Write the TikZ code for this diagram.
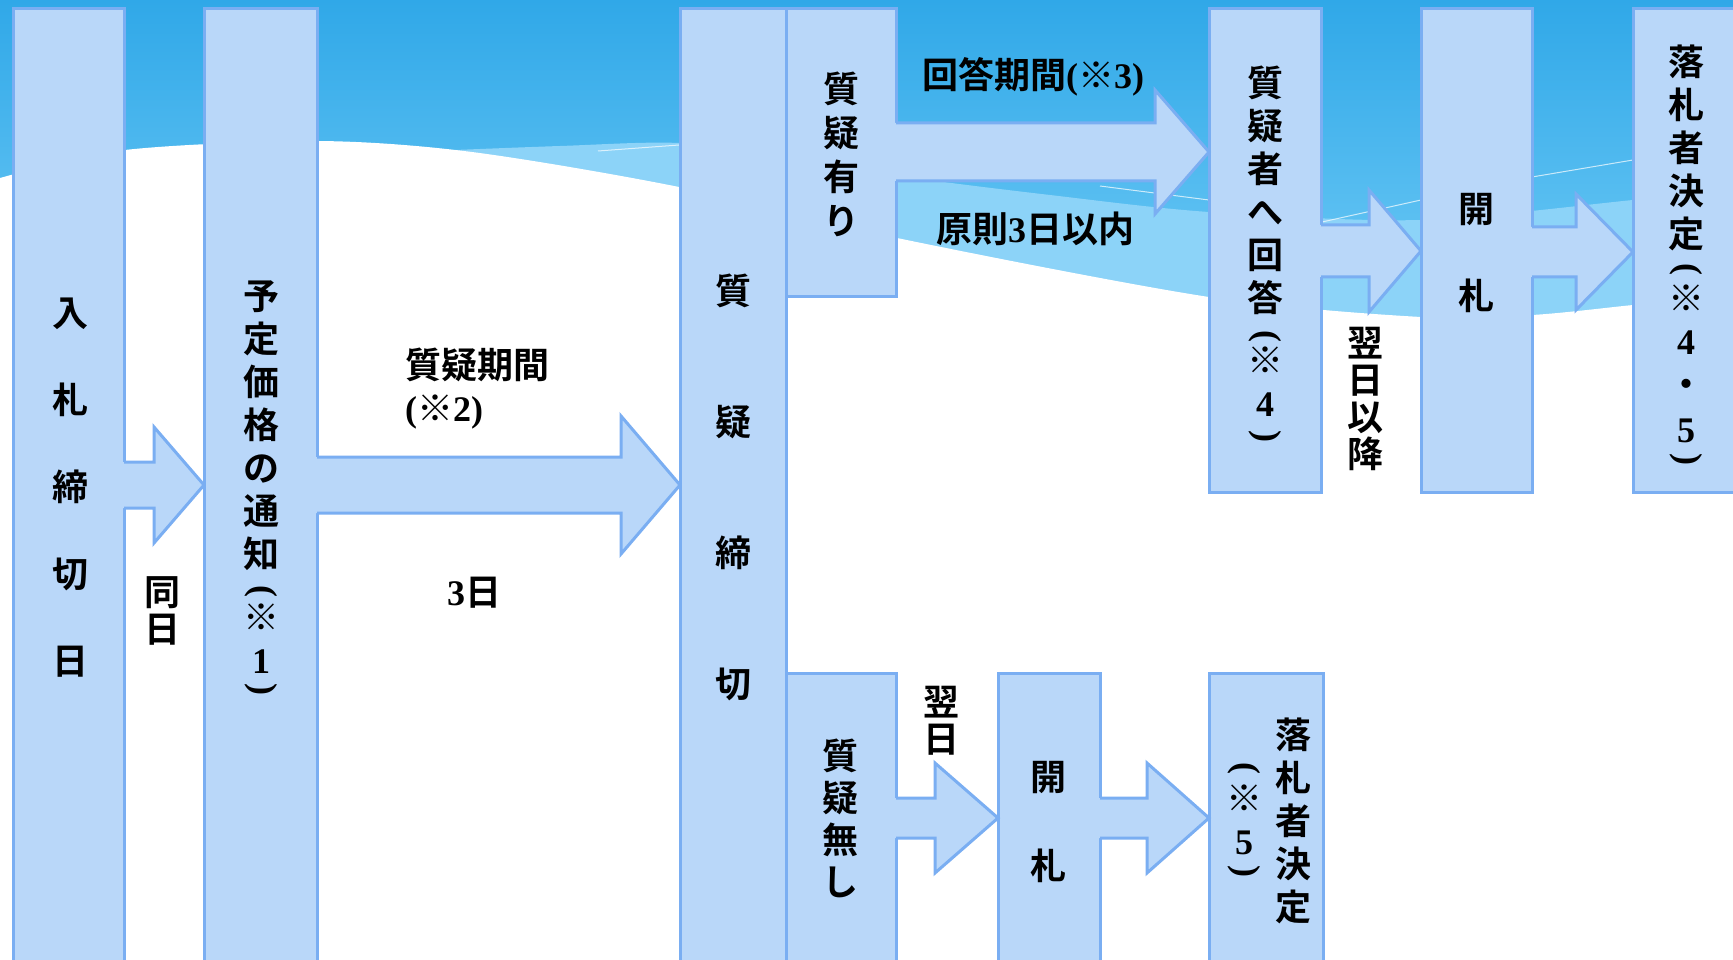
\documentclass[tikz,border=0pt]{standalone}
\usepackage{fontspec}
\usepackage{graphicx}
\usetikzlibrary{calc}
\newfontfamily\jp{Noto Sans CJK JP}[BoldFont={Noto Sans CJK JP Bold}]
\newfontfamily\lat{Liberation Serif}
\newcommand\vlp{\rotatebox[origin=c]{-90}{\lat (}}
\newcommand\vrp{\rotatebox[origin=c]{-90}{\lat )}}
\definecolor{skytop}{HTML}{30A8E8}
\definecolor{skylow}{HTML}{70CBF6}
\definecolor{bandblue}{HTML}{8CD3F8}
\definecolor{boxfill}{HTML}{B9D7F9}
\definecolor{boxline}{HTML}{7AAEF2}

\tikzset{
  box/.style={draw=boxline, fill=boxfill, line width=3pt, anchor=north west, inner sep=0pt, outer sep=0pt},
  arrowline/.style={draw=boxline, line width=3pt},
  vtext/.style={font=\jp\bfseries\fontsize{36}{#1}\selectfont, align=center, inner sep=0pt},
  vtext/.default=43,
  htext/.style={font=\jp\bfseries\fontsize{36}{43}\selectfont, inner sep=0pt},
}

% block arrow: from, to, tip y, shaft half, head half, head length
\newcommand\blockarrow[6]{%
  \coordinate (ba-s) at (#1.east |- 0,#3);
  \coordinate (ba-t) at (#2.west |- 0,#3);
  \fill[boxfill] ($(ba-s)+(-2,-#4)$) -- ($(ba-t)+(-#6,-#4)$) -- ($(ba-t)+(-#6,-#5)$) -- (ba-t)
    -- ($(ba-t)+(-#6,#5)$) -- ($(ba-t)+(-#6,#4)$) -- ($(ba-s)+(-2,#4)$) -- cycle;
  \draw[arrowline] ($(ba-s)+(0,-#4)$) -- ($(ba-t)+(-#6,-#4)$) -- ($(ba-t)+(-#6,-#5)$) -- (ba-t)
    -- ($(ba-t)+(-#6,#5)$) -- ($(ba-t)+(-#6,#4)$) -- ($(ba-s)+(0,#4)$);
}

\begin{document}
\begin{tikzpicture}[x=1pt,y=-1pt]
\useasboundingbox (0,0) rectangle (1733,960);
\clip (0,0) rectangle (1733,960);

% background
\fill[top color=skytop, bottom color=skylow] (0,0) rectangle (1733,330);
\fill[bandblue] plot[smooth] coordinates {(430,151) (560,146) (679,143) (800,157) (900,176) (1050,195) (1209,212) (1420,220) (1633,200) (1733,190)}
  -- (1733,420) -- (430,420) -- cycle;
\fill[white] plot[smooth] coordinates {(0,178) (125,150) (317,141) (472,152) (679,187) (897,238) (1209,297) (1421,317) (1532,315) (1633,305) (1733,295)}
  -- (1733,960) -- (0,960) -- cycle;
\draw[white, opacity=.7, line width=1pt] (598,151) -- (679,145) (1100,186) -- (1209,200)
  (1322,222) -- (1421,200) (1532,177) -- (1633,160);

% boxes
\node[box, minimum width=111pt, minimum height=980pt] (nyusatsu) at (13,9) {};
\node[box, minimum width=113pt, minimum height=980pt] (yotei) at (204,9) {};
\node[box, minimum width=106pt, minimum height=980pt] (shitsugi) at (680,9) {};
\node[box, minimum width=110pt, minimum height=287pt] (ari) at (786,9) {};
\node[box, minimum width=110pt, minimum height=310pt] (nashi) at (786,673) {};
\node[box, minimum width=112pt, minimum height=483pt] (kaito) at (1209,9) {};
\node[box, minimum width=111pt, minimum height=483pt] (kaisatsuA) at (1421,9) {};
\node[box, minimum width=130pt, minimum height=483pt] (rakusatsuA) at (1633,9) {};
\node[box, minimum width=102pt, minimum height=310pt] (kaisatsuB) at (998,673) {};
\node[box, minimum width=114pt, minimum height=310pt] (rakusatsuB) at (1209,673) {};

% arrows
\blockarrow{nyusatsu}{yotei}{485}{23}{58}{50}
\blockarrow{yotei}{shitsugi}{485}{28}{69}{59}
\blockarrow{ari}{kaito}{152}{29}{62}{54}
\blockarrow{kaito}{kaisatsuA}{251}{26}{61}{52}
\blockarrow{kaisatsuA}{rakusatsuA}{252}{25}{58}{57}
\blockarrow{nashi}{kaisatsuB}{818}{20}{55}{63}
\blockarrow{kaisatsuB}{rakusatsuB}{818}{20}{55}{62}

% texts
\node[vtext=87] (t-nyusatsu) at (70,488) {入\\札\\締\\切\\日};
\node[vtext=37] (t-doujitsu) at (162,611) {同\\日};
\node[vtext, anchor=north] (t-yotei) at (261,280) {予\\定\\価\\格\\の\\通\\知\\[-10pt]\vlp\\[-13pt]※\\{\lat 1}\\[-18pt]\vrp};
\node[htext, align=left, anchor=west] (t-kikan) at (405,389) {質疑期間\\{\lat (}※{\lat 2)}};
\node[htext] (t-mikka) at (474,593) {{\lat 3}日};
\node[vtext=131] (t-shitsugi) at (733,487) {質\\疑\\締\\切};
\node[vtext=44] (t-ari) at (841,154) {質\\疑\\有\\り};
\node[htext] (t-kaitokikan) at (1033,77) {回答期間{\lat (}※{\lat 3)}};
\node[htext] (t-gensoku) at (1035,229) {原則{\lat 3}日以内};
\node[vtext, anchor=north] (t-kaito) at (1265,66) {質\\疑\\者\\へ\\回\\答\\[-10pt]\vlp\\[-14pt]※\\{\lat 4}\\[-15pt]\vrp};
\node[vtext=37] (t-yokujitsuA) at (1365,399) {翌\\日\\以\\降};
\node[vtext=87] (t-kaisatsuA) at (1476,253) {開\\札};
\node[vtext, anchor=north] (t-rakusatsuA) at (1686,45) {落\\札\\者\\決\\定\\[-13pt]\vlp\\[-9pt]※\\{\lat 4}\\・\\[2pt]{\lat 5}\\[-18pt]\vrp};
\node[vtext=42] (t-nashi) at (840,818) {質\\疑\\無\\し};
\node[vtext=37] (t-yokujitsuB) at (941,721) {翌\\日};
\node[vtext=89] (t-kaisatsuB) at (1048,822) {開\\札};
\node[vtext] (t-rakusatsuB) at (1293,821) {落\\札\\者\\決\\定};
\node[vtext, anchor=north] (t-chuB) at (1244,762) {\vlp\\[-8pt]※\\{\lat 5}\\[-18pt]\vrp};
\end{tikzpicture}
\end{document}
